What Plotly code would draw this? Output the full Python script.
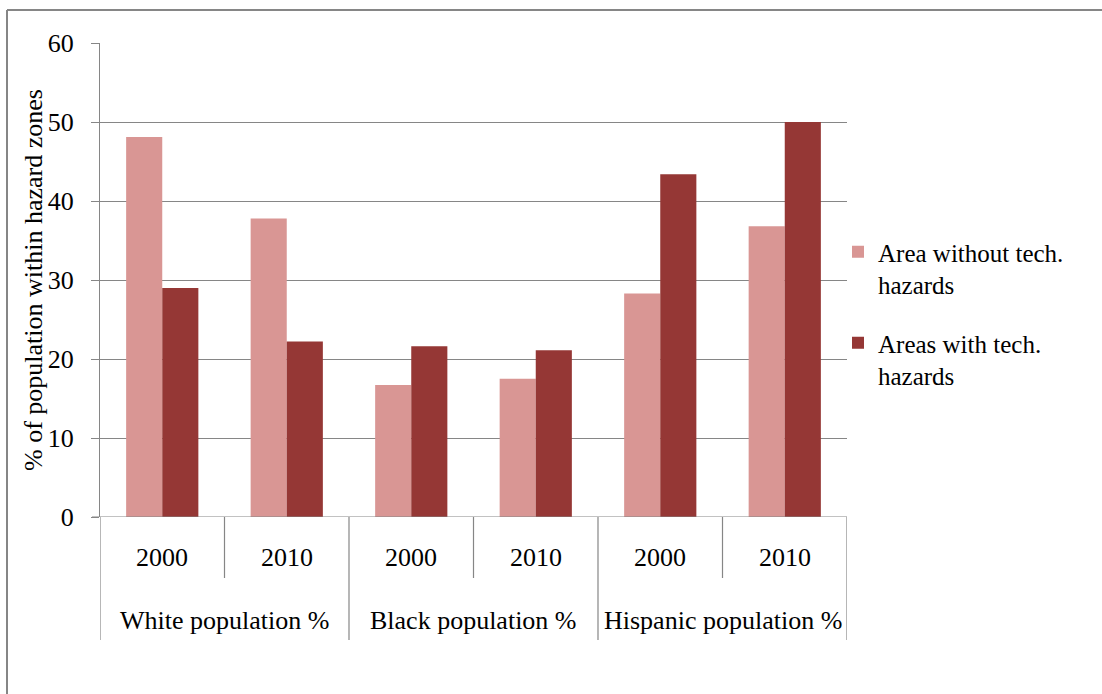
import plotly.graph_objects as go

groups = ["White population %", "Black population %", "Hispanic population %"]
years = ["2000", "2010"]
without_hazards = [48.1, 37.8, 16.7, 17.5, 28.3, 36.8]
with_hazards = [29.0, 22.2, 21.6, 21.1, 43.4, 50.0]
series_names = ["Area without tech.<br>hazards", "Areas with tech.<br>hazards"]
y_ticks = [0, 10, 20, 30, 40, 50, 60]

cats = [f"{g} {y}" for g in groups for y in years]

FONT = "Liberation Serif"
GRAY = "#868686"
W, H = 1102, 694
ML, MR, MT, MB = 100, 255, 43, 177
PW, PH = W - ML - MR, H - MT - MB

def px_x(p):
    return (p - ML) / PW

def px_y(p):
    return (H - MB - p) / PH

fig = go.Figure()
fig.add_trace(go.Bar(x=cats, y=without_hazards, name=series_names[0],
                     marker=dict(color="#D99694", line=dict(width=0)),
                     legendgroup="a"))
fig.add_trace(go.Bar(x=cats, y=with_hazards, name=series_names[1],
                     marker=dict(color="#953735", line=dict(width=0)),
                     legendgroup="b"))

shapes = []
# category dividers below the axis
for i in range(len(cats) + 1):
    is_group = (i % len(years) == 0)
    shapes.append(dict(type="line", xref="x", yref="paper",
                       x0=i - 0.5, x1=i - 0.5, y0=0,
                       y1=px_y(640) if is_group else px_y(578),
                       line=dict(color=GRAY, width=1.2)))
# outer frame (left and top)
shapes.append(dict(type="line", xref="paper", yref="paper",
                   x0=px_x(7), x1=px_x(7), y0=px_y(10), y1=px_y(694),
                   line=dict(color=GRAY, width=2)))
shapes.append(dict(type="line", xref="paper", yref="paper",
                   x0=px_x(7), x1=px_x(1102), y0=px_y(10), y1=px_y(10),
                   line=dict(color=GRAY, width=2)))
# x axis baseline extending to the 0 tick
shapes.append(dict(type="line", xref="paper", yref="y",
                   x0=px_x(92), x1=1, y0=0, y1=0,
                   line=dict(color=GRAY, width=1.2)))

annotations = []
for i, c in enumerate(cats):
    annotations.append(dict(x=c, xref="x", y=px_y(557), yref="paper",
                            text=years[i % len(years)], showarrow=False,
                            font=dict(family=FONT, size=26, color="black"),
                            xanchor="center", yanchor="middle"))
for gi, g in enumerate(groups):
    annotations.append(dict(x=gi * len(years) + 0.5, xref="x", y=px_y(620), yref="paper",
                            text=g, showarrow=False,
                            font=dict(family=FONT, size=26, color="black"),
                            xanchor="center", yanchor="middle"))
annotations.append(dict(x=px_x(33), xref="paper", y=0.5, yref="paper",
                        text="% of population within hazard zones", textangle=-90,
                        showarrow=False, font=dict(family=FONT, size=26, color="black"),
                        xanchor="center", yanchor="middle"))

fig.update_layout(
    width=W, height=H,
    margin=dict(l=ML, r=MR, t=MT, b=MB, pad=0),
    paper_bgcolor="white", plot_bgcolor="white",
    barmode="group", bargap=0.42, bargroupgap=0,
    font=dict(family=FONT, size=26, color="black"),
    shapes=shapes, annotations=annotations,
    showlegend=True,
    legend=dict(x=px_x(838), y=px_y(229), xanchor="left", yanchor="top",
                font=dict(family=FONT, size=25, color="black"),
                valign="top", tracegroupgap=23, traceorder="grouped",
                bgcolor="rgba(0,0,0,0)"),
)
fig.update_xaxes(type="category", showticklabels=False, showgrid=False,
                 showline=False, ticks="", zeroline=False,
                 range=[-0.5, len(cats) - 0.5])
fig.update_yaxes(range=[0, 60], tickvals=y_ticks, showgrid=True, gridcolor=GRAY,
                 gridwidth=1.2, showline=True, linecolor=GRAY, linewidth=1.2,
                 ticks="outside", ticklen=8, tickcolor=GRAY, tickwidth=1.2,
                 zeroline=False, ticklabelstandoff=12,
                 tickfont=dict(family=FONT, size=26, color="black"))

fig.write_html("out.html")
